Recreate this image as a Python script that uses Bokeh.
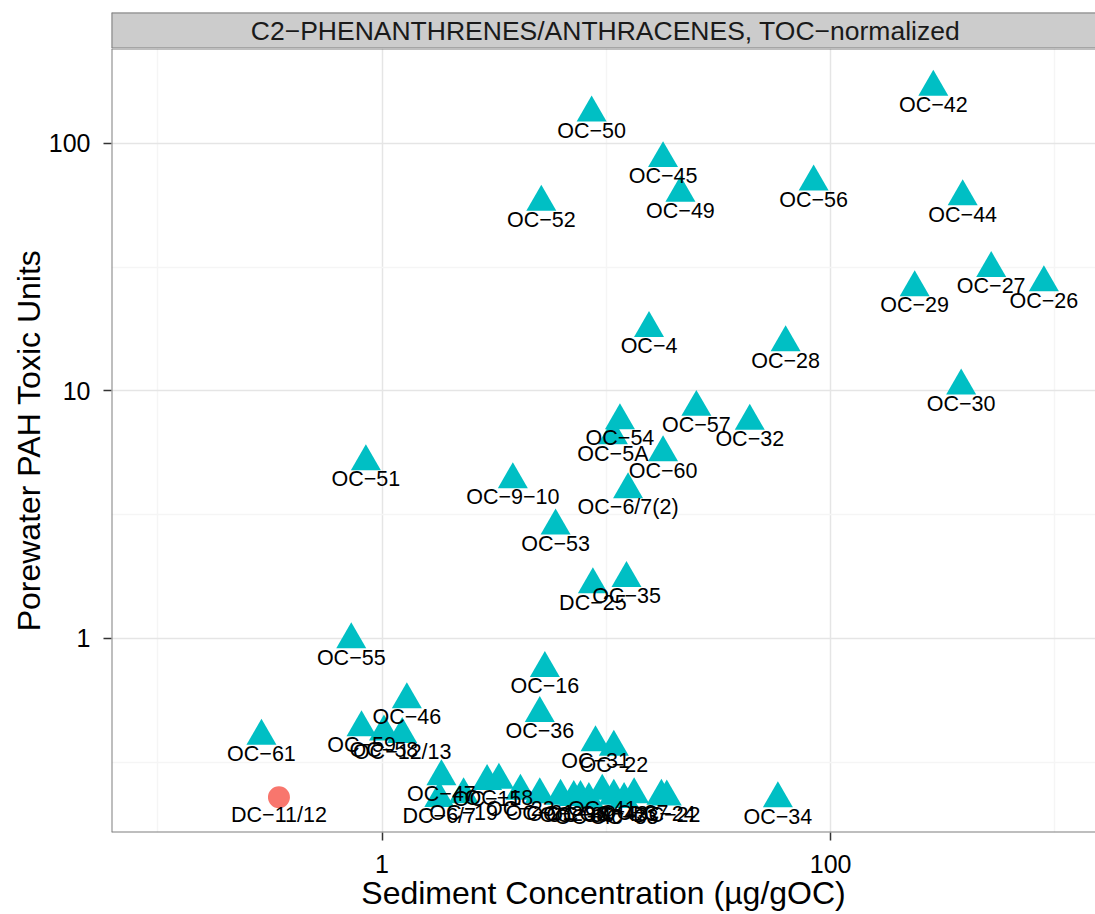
from bokeh.plotting import figure
from bokeh.models import Range1d, FixedTicker, PrintfTickFormatter, ColumnDataSource, Span
from bokeh.layouts import column
from bokeh.embed import file_html
from bokeh.resources import INLINE
from bokeh.core.properties import value

FONT = "Liberation Sans"

strip_title = "C2\u2212PHENANTHRENES/ANTHRACENES, TOC\u2212normalized"
x_title = "Sediment Concentration (\u00b5g/gOC)"
y_title = "Porewater PAH Toxic Units"

# triangles (cyan group)
tri_names = ["OC\u221242", "OC\u221250", "OC\u221245", "OC\u221249", "OC\u221256", "OC\u221252",
             "OC\u221244", "OC\u221227", "OC\u221229", "OC\u221226", "OC\u221230", "OC\u22124",
             "OC\u221228", "OC\u221257", "OC\u221232", "OC\u221254", "OC\u22125A", "OC\u221260",
             "OC\u22126/7(2)", "OC\u221251", "OC\u22129\u221210", "OC\u221253", "DC\u221225", "OC\u221235",
             "OC\u221255", "OC\u221216", "OC\u221246", "OC\u221236", "OC\u221231", "OC\u221222",
             "OC\u221259", "OC\u221258", "OC\u221212/13", "OC\u221261", "OC\u221234",
             "OC\u221247", "DC\u22126/7", "OC\u221219", "OC\u221215", "OC\u221218", "OC\u221223",
             "OC\u221221", "OC\u221220", "OC\u221238", "OC\u221239", "OC\u221240", "OC\u221241",
             "OC\u221243", "OC\u221233", "OC\u221237", "OC\u221224", "DC\u221222"]
tri_x = [287, 8.6, 17.9, 21.4, 84, 5.13,
         388, 520, 237, 893, 382, 15.5,
         63, 25.2, 43.6, 11.5, 10.7, 17.9,
         12.5, 0.847, 3.83, 5.94, 8.71, 12.3,
         0.729, 5.32, 1.29, 5.05, 8.95, 10.8,
         0.81, 1.02, 1.23, 0.290, 58.2,
         1.84, 1.80, 2.31, 2.94, 3.32, 4.14,
         5.05, 6.25, 7.16, 7.67, 8.36, 9.59,
         10.8, 12.0, 13.3, 17.6, 18.6]
tri_y = [169, 133, 87, 63, 70, 58,
         61, 31.3, 26.2, 27.4, 10.5, 17.9,
         15.7, 8.6, 7.56, 7.6, 6.6, 5.64,
         4.0, 5.19, 4.39, 2.85, 1.65, 1.75,
         0.99, 0.757, 0.567, 0.498, 0.380, 0.364,
         0.437, 0.42, 0.41, 0.403, 0.2257,
         0.277, 0.226, 0.234, 0.265, 0.268, 0.242,
         0.234, 0.231, 0.228, 0.228, 0.224, 0.242,
         0.231, 0.224, 0.234, 0.231, 0.229]

# circle (salmon group)
circ_names = ["DC\u221211/12"]
circ_x = [0.347]
circ_y = [0.2285]

x_ticks = [1, 100]
x_minor = [0.1, 10, 1000]
y_ticks = [1, 10, 100]
y_minor = [0.3162, 3.162, 31.62]

W = 1095
LEFT = 111
X0, X1 = 0.0622, 1517
Y0, Y1 = 0.1645, 242
BORDER = "#7F7F7F"

# ---- strip ----
s = figure(width=W, height=48, x_range=Range1d(0, 1), y_range=Range1d(0, 1),
           output_backend="svg", toolbar_location=None,
           x_axis_location=None, y_axis_location=None,
           min_border_left=LEFT, min_border_right=0, min_border_top=12, min_border_bottom=0)
s.grid.visible = False
s.background_fill_color = "#CCCCCC"
s.border_fill_color = "white"
s.outline_line_color = None
for loc, dim in ((0, "width"), (1, "width"), (0, "height")):
    s.add_layout(Span(location=loc, dimension=dim, line_color=BORDER, line_width=2))
s.text(x=[0.502], y=[0.5], text=[strip_title], text_font=value(FONT), text_font_size="26.5px",
       text_align="center", text_baseline="middle", text_color="#1A1A1A")

# ---- main panel ----
p = figure(width=W, height=866, x_axis_type="log", y_axis_type="log",
           x_range=Range1d(X0, X1), y_range=Range1d(Y0, Y1),
           output_backend="svg", toolbar_location=None,
           min_border_left=LEFT, min_border_right=0, min_border_top=0, min_border_bottom=82)
p.background_fill_color = "white"
p.border_fill_color = "white"
p.outline_line_color = None

xt = FixedTicker(ticks=x_ticks, minor_ticks=x_minor)
yt = FixedTicker(ticks=y_ticks, minor_ticks=y_minor)
p.xaxis.ticker = xt
p.yaxis.ticker = yt
p.xgrid.ticker = xt
p.ygrid.ticker = yt
p.xaxis.formatter = PrintfTickFormatter(format="%g")
p.yaxis.formatter = PrintfTickFormatter(format="%g")

for g in (p.xgrid, p.ygrid):
    g.grid_line_color = "#E5E5E5"
    g.grid_line_width = 1.5
    g.minor_grid_line_color = "#F5F5F5"
    g.minor_grid_line_width = 1.5

p.axis.axis_line_color = None
p.axis.major_tick_line_color = "#333333"
p.axis.major_tick_line_width = 1.5
p.axis.major_tick_out = 8
p.axis.major_tick_in = 0
p.axis.minor_tick_line_color = None
p.axis.major_label_text_font = FONT
p.axis.major_label_text_font_size = "25px"
p.axis.major_label_text_color = "black"
p.xaxis.major_label_standoff = 14
p.yaxis.major_label_standoff = 13
p.xaxis.axis_label = x_title
p.yaxis.axis_label = y_title
p.axis.axis_label_text_font = FONT
p.axis.axis_label_text_font_size = "32px"
p.axis.axis_label_text_font_style = "normal"
p.axis.axis_label_text_color = "black"
p.xaxis.axis_label_standoff = -1
p.yaxis.axis_label_standoff = -1

tri = ColumnDataSource(dict(x=tri_x, y=tri_y, name=tri_names))
circ = ColumnDataSource(dict(x=circ_x, y=circ_y, name=circ_names))

p.scatter("x", "y", source=circ, marker="circle", size=22, fill_color="#F8766D", line_color=None)
p.scatter("x", "y", source=tri, marker="triangle", size=30, fill_color="#00BFC4", line_color=None)

for src in (circ, tri):
    p.text("x", "y", text="name", source=src, text_font=value(FONT), text_font_size="21.5px",
           text_align="center", text_baseline="middle", y_offset=18, text_color="black")

# panel border (left, bottom, top); right side falls outside the picture
p.add_layout(Span(location=X0, dimension="height", line_color=BORDER, line_width=2))
p.add_layout(Span(location=Y0, dimension="width", line_color=BORDER, line_width=2))
p.add_layout(Span(location=Y1, dimension="width", line_color=BORDER, line_width=2))

layout = column(s, p, spacing=0)
open("out.html", "w").write(file_html(layout, INLINE))
